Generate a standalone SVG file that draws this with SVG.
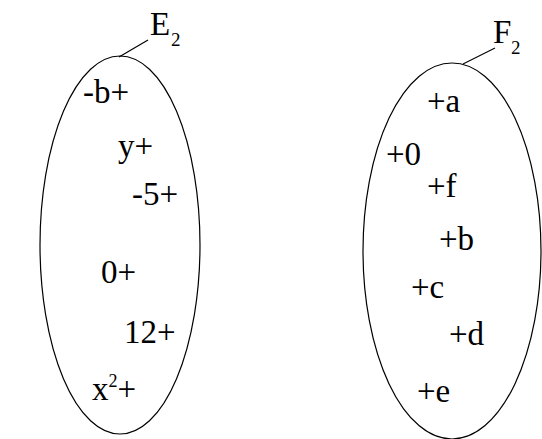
<svg xmlns="http://www.w3.org/2000/svg" width="542" height="439" viewBox="0 0 542 439">
<style>
.set{fill:none;stroke:#000;stroke-width:1.2}
.lead{stroke:#000;stroke-width:1.2}
.t{font-family:'Liberation Serif','DejaVu Serif',serif;font-size:33px;fill:#000}
.sub{font-size:19px}
.sup{font-size:18px}
</style>
<rect width="542" height="439" fill="#fff"/>
<g id="E2">
<ellipse class="set" cx="120" cy="245" rx="80" ry="189"/>
<text class="t" x="150" y="35">E</text><text class="t sub" x="171" y="46">2</text>
</g>
<g id="F2">
<ellipse class="set" cx="452" cy="251" rx="89" ry="188"/>
<text class="t" x="493" y="43">F</text><text class="t sub" x="511" y="54">2</text>
</g>
<g id="connectors">
<line class="lead" x1="119" y1="57" x2="148" y2="40"/>
<line class="lead" x1="463" y1="64" x2="495" y2="48"/>
</g>
<g id="E-elements" class="t">
<text x="83" y="103">-b+</text>
<text x="118" y="157">y+</text>
<text x="132" y="205">-5+</text>
<text x="101" y="283">0+</text>
<text x="124" y="343">12+</text>
<text x="92" y="400">x<tspan class="sup" dy="-13">2</tspan><tspan dy="13">+</tspan></text>
</g>
<g id="F-elements" class="t">
<text x="427" y="112">+a</text>
<text x="386" y="165">+0</text>
<text x="427" y="197">+f</text>
<text x="439" y="250">+b</text>
<text x="411" y="298">+c</text>
<text x="449" y="345">+d</text>
<text x="417" y="402">+e</text>
</g>
</svg>
